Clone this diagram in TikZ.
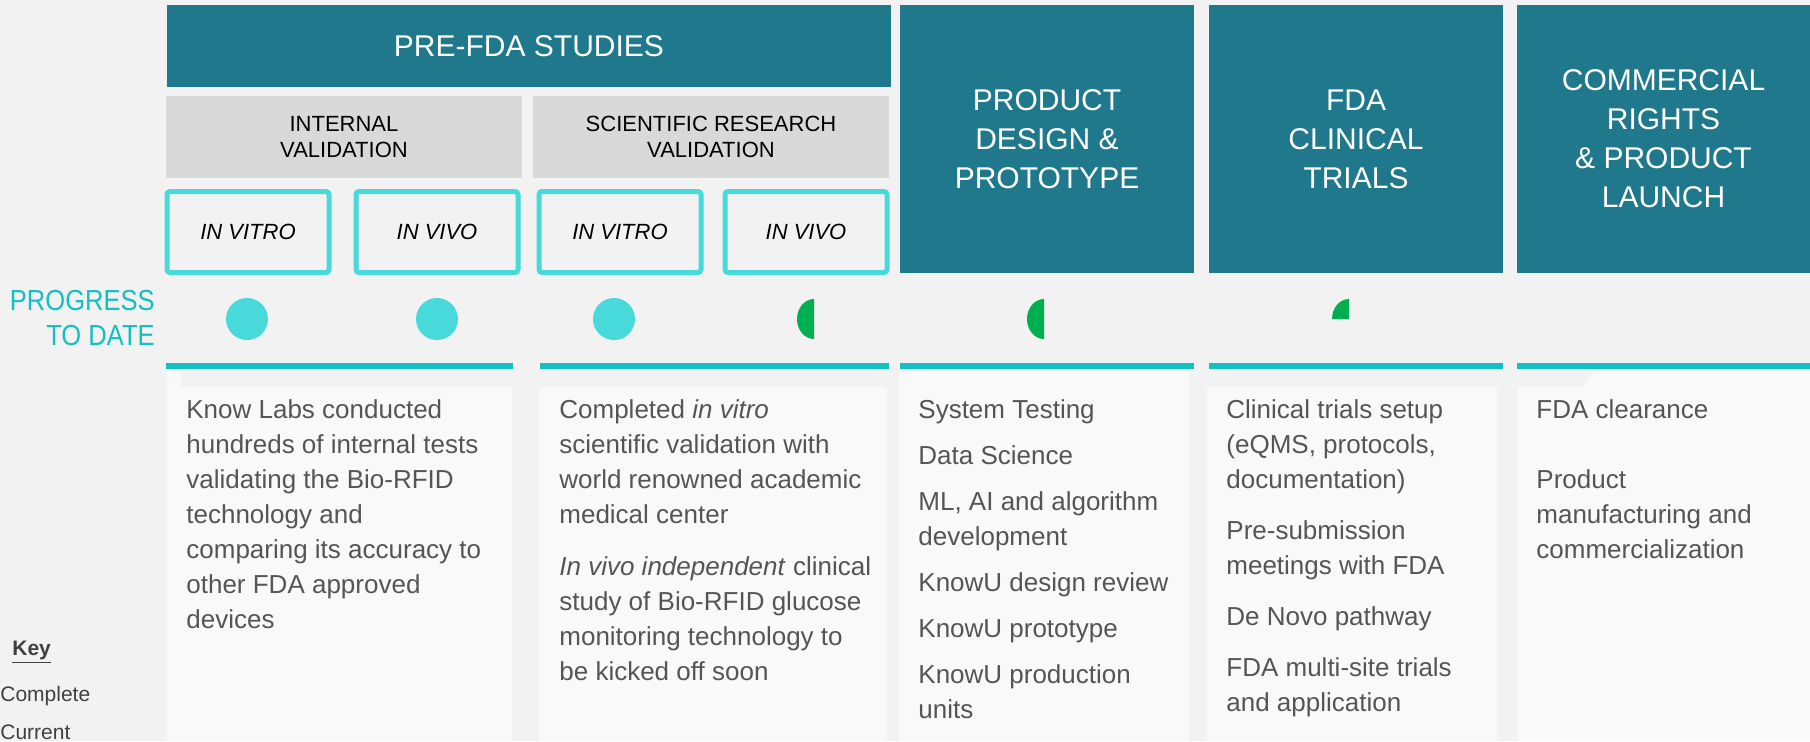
\documentclass[tikz,border=0pt]{standalone}
\usepackage{fontspec}
\setmainfont{Liberation Sans}
\newfontfamily\condfont{Liberation Sans}[FakeStretch=0.88]
\definecolor{phase}{RGB}{31,120,139}
\definecolor{stage}{RGB}{217,217,217}
\definecolor{study}{RGB}{72,217,218}
\definecolor{rule}{RGB}{18,192,194}
\definecolor{current}{RGB}{0,176,80}
\definecolor{page}{RGB}{242,242,242}
\definecolor{panel}{RGB}{249,249,249}
\definecolor{body}{RGB}{85,85,85}
\definecolor{keytext}{RGB}{64,64,64}

\begin{document}
\begin{tikzpicture}[x=0.5pt,y=-0.5pt,
  phasebox/.style={fill=phase,text=white,inner sep=0pt,outer sep=0pt,align=center,
    font=\fontsize{15}{19.5}\selectfont},
  stagebox/.style={fill=stage,minimum width=178pt,minimum height=41pt,inner sep=0pt,
    align=center,font=\fontsize{11}{13}\selectfont},
  studybox/.style={draw=study,line width=2.5pt,rounded corners=1.5pt,fill=page,
    minimum width=81pt,minimum height=40.5pt,inner sep=0pt,
    font=\fontsize{11}{13}\selectfont\itshape},
  done/.style={circle,fill=study,minimum size=21pt,inner sep=0pt},
  notes/.style={anchor=north west,inner sep=0pt,align=left,text=body,
    font=\fontsize{13}{17.5}\selectfont},
  keyline/.style={anchor=west,inner sep=0pt,text=keytext,font=\fontsize{10.5}{12}\selectfont}]

  \fill[page] (0,0) rectangle (1810,741);
  \useasboundingbox (0,0) rectangle (1810,741);

  \node[phasebox,minimum width=362pt,minimum height=41pt] (prefda) at (529,46) {PRE-FDA STUDIES};
  \node[phasebox,minimum width=147pt,minimum height=134pt] (design) at (1047,139)
    {PRODUCT\\DESIGN \&\\PROTOTYPE};
  \node[phasebox,minimum width=147pt,minimum height=134pt] (trials) at (1356,139)
    {FDA\\CLINICAL\\TRIALS};
  \node[phasebox,minimum width=146.5pt,minimum height=134pt] (launch) at (1663.5,139)
    {COMMERCIAL\\RIGHTS\\\& PRODUCT\\LAUNCH};

  \node[stagebox] (internal) at (344,137) {INTERNAL\\VALIDATION};
  \node[stagebox] (science) at (711,137) {SCIENTIFIC RESEARCH\\VALIDATION};

  \node[studybox] (vitroa) at (248,232) {IN VITRO};
  \node[studybox] (vivoa) at (437,232) {IN VIVO};
  \node[studybox] (vitrob) at (620,232) {IN VITRO};
  \node[studybox] (vivob) at (806,232) {IN VIVO};

  \node[anchor=east,inner sep=0pt,align=right,text=rule,
    font=\condfont\fontsize{14.5}{17.5}\selectfont] (progress) at (155,318.5)
    {PROGRESS\\TO DATE};

  \node[done] (dota) at (247,319) {};
  \node[done] (dotb) at (437,319) {};
  \node[done] (dotc) at (614,319) {};
  \fill[current] (814,319) -- ++(0,10pt) arc[start angle=90,end angle=270,x radius=8.5pt,y radius=10pt] -- cycle;
  \fill[current] (1044,319) -- ++(0,10pt) arc[start angle=90,end angle=270,x radius=8.5pt,y radius=10pt] -- cycle;
  \fill[current] (1349,319) -- ++(0,10pt) arc[start angle=90,end angle=180,x radius=8.5pt,y radius=10pt] -- cycle;

  \fill[rule] (166,363) rectangle (513,369);
  \fill[rule] (540,363) rectangle (889,369);
  \fill[rule] (900,363) rectangle (1194,369);
  \fill[rule] (1209,363) rectangle (1503,369);
  \fill[rule] (1517,363) rectangle (1810,369);

  \fill[panel] (167,387) rectangle (512,741);
  \fill[panel] (167,372) rectangle (181,387);
  \fill[panel] (539,387) rectangle (887,741);
  \fill[panel] (899,372) rectangle (1189,741);
  \fill[panel] (1207,387) rectangle (1497,741);
  \fill[panel] (1518,387) -- (1582,387) -- (1594,372) -- (1810,372) -- (1810,741) -- (1518,741) -- cycle;

  \node[notes] (inotes) at (186,399)
    {Know Labs conducted\\hundreds of internal tests\\validating the Bio-RFID\\technology and\\
     comparing its accuracy to\\other FDA approved\\devices};
  \node[notes] (snotes) at (559,399)
    {Completed \textit{in vitro}\\scientific validation with\\world renowned academic\\medical center\\[8.5pt]
     \textit{In vivo independent} clinical\\study of Bio-RFID glucose\\monitoring technology to\\be kicked off soon};
  \node[notes] (dnotes) at (918,399)
    {System Testing\\[5.5pt]Data Science\\[5.5pt]ML, AI and algorithm\\development\\[5.5pt]
     KnowU design review\\[5.5pt]KnowU prototype\\[5.5pt]KnowU production\\units};
  \node[notes] (tnotes) at (1226,399)
    {Clinical trials setup\\(eQMS, protocols,\\documentation)\\[8pt]Pre-submission\\meetings with FDA\\[8pt]
     De Novo pathway\\[8pt]FDA multi-site trials\\and application};
  \node[notes] (lnotes) at (1536,399)
    {FDA clearance\\[17.5pt]Product\\manufacturing and\\commercialization};

  \node[keyline] (key) at (12,652) {\underline{\textbf{Key}}};
  \node[keyline] (complete) at (0,696) {Complete};
  \node[keyline] (ongoing) at (0,732) {Current};

\end{tikzpicture}
\end{document}
